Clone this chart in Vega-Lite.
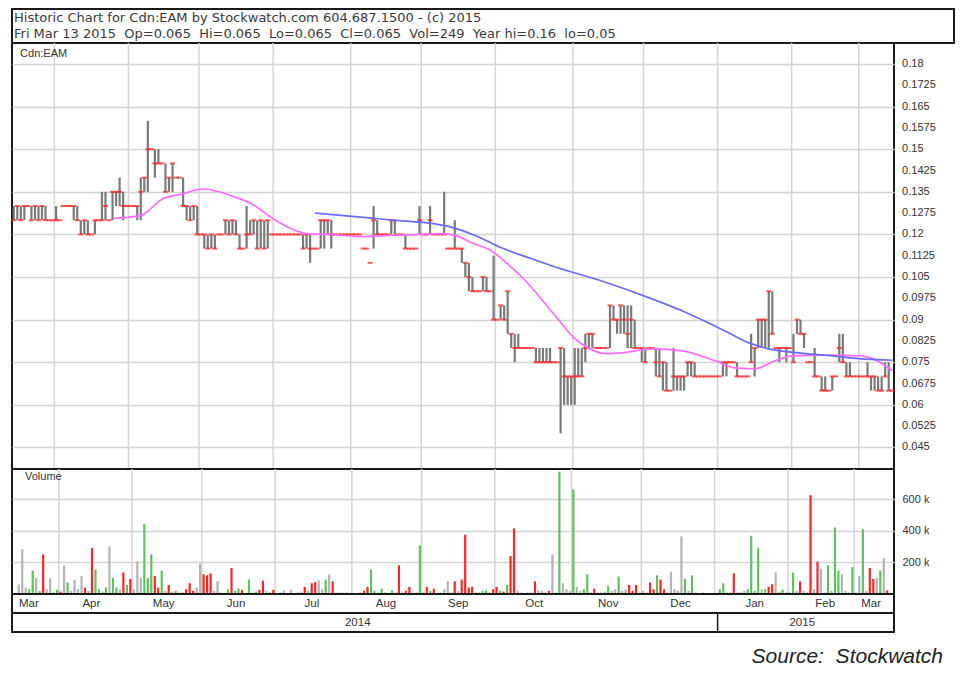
{
  "$schema": "https://vega.github.io/schema/vega-lite/v6.json",
  "background": "white",
  "padding": {"left": 10, "top": 8, "right": 20, "bottom": 4},
  "config": {
    "view": {"stroke": "#1a1a1a", "strokeWidth": 2},
    "font": "Liberation Sans"
  },
  "title": {"text": "Source:\u00a0\u00a0Stockwatch", "orient": "bottom", "anchor": "end", "font": "Liberation Sans", "fontStyle": "italic", "fontWeight": "normal", "fontSize": 21, "color": "#222222", "offset": 12, "dx": -12},
  "datasets": {
    "bounds": [{"b":11.5},{"b":32.5},{"b":52.5},{"b":73.5},{"b":95.5},{"b":115.5},{"b":136.5},{"b":158.5},{"b":178.5},{"b":199.5},{"b":220.5},{"b":239.5}],
    "months": [{"m":"Mar","c":4.3},{"m":"Apr","c":22},{"m":"May","c":42.5},{"m":"Jun","c":63},{"m":"Jul","c":84.5},{"m":"Aug","c":105.5},{"m":"Sep","c":126},{"m":"Oct","c":147.5},{"m":"Nov","c":168.5},{"m":"Dec","c":189},{"m":"Jan","c":210},{"m":"Feb","c":230},{"m":"Mar","c":243}],
    "yticks": [{"v":0.18,"t":"0.18"},{"v":0.1725,"t":"0.1725"},{"v":0.165,"t":"0.165"},{"v":0.1575,"t":"0.1575"},{"v":0.15,"t":"0.15"},{"v":0.1425,"t":"0.1425"},{"v":0.135,"t":"0.135"},{"v":0.1275,"t":"0.1275"},{"v":0.12,"t":"0.12"},{"v":0.1125,"t":"0.1125"},{"v":0.105,"t":"0.105"},{"v":0.0975,"t":"0.0975"},{"v":0.09,"t":"0.09"},{"v":0.0825,"t":"0.0825"},{"v":0.075,"t":"0.075"},{"v":0.0675,"t":"0.0675"},{"v":0.06,"t":"0.06"},{"v":0.0525,"t":"0.0525"},{"v":0.045,"t":"0.045"}],
    "maShort": [
      {"i":28.4,"p":0.1257},{"i":32,"p":0.126},{"i":36.3,"p":0.1267},{"i":37.8,"p":0.128},{"i":42,"p":0.1324},{"i":47.7,"p":0.1342},{"i":53.4,"p":0.136},{"i":57.6,"p":0.1352},{"i":62,"p":0.1335},{"i":67.5,"p":0.1307},{"i":73.2,"p":0.1258},{"i":78.9,"p":0.1219},{"i":83.1,"p":0.1203},{"i":90,"p":0.12},{"i":98.7,"p":0.1192},{"i":107,"p":0.1197},{"i":115.7,"p":0.12},{"i":121.4,"p":0.1203},{"i":125.6,"p":0.1195},{"i":129.9,"p":0.117},{"i":135,"p":0.1145},{"i":139.8,"p":0.1098},{"i":144.6,"p":0.1043},{"i":149.7,"p":0.097},{"i":154,"p":0.0906},{"i":158.8,"p":0.0836},{"i":163.3,"p":0.0797},{"i":168.1,"p":0.078},{"i":172.4,"p":0.0783},{"i":180.9,"p":0.0797},{"i":189.4,"p":0.079},{"i":198.8,"p":0.0755},{"i":204.4,"p":0.073},{"i":210.1,"p":0.0727},{"i":215.8,"p":0.0755},{"i":220.6,"p":0.0772},{"i":230,"p":0.0775},{"i":240,"p":0.0772},{"i":244,"p":0.076},{"i":249,"p":0.072}
    ],
    "maLong": [
      {"i":85.4,"p":0.1275},{"i":100.7,"p":0.1258},{"i":110,"p":0.1248},{"i":119.4,"p":0.1237},{"i":124.2,"p":0.1225},{"i":131,"p":0.1195},{"i":138.4,"p":0.1152},{"i":145.5,"p":0.112},{"i":152.6,"p":0.1089},{"i":166.7,"p":0.1036},{"i":180.9,"p":0.0973},{"i":189.4,"p":0.0931},{"i":202.7,"p":0.0853},{"i":208.4,"p":0.0818},{"i":214,"p":0.0797},{"i":222.6,"p":0.0783},{"i":232,"p":0.0772},{"i":241.3,"p":0.0761},{"i":249,"p":0.0757}
    ],
    "daily": [
      {"i":0,"h":0.13,"l":0.125,"c":0.125,"v":60,"d":"n"},
      {"i":1,"h":0.13,"l":0.125,"c":0.13,"v":284,"d":"n"},
      {"i":2,"h":0.13,"l":0.125,"c":0.125,"v":40,"d":"n"},
      {"i":3,"h":0.13,"l":0.125,"c":0.13,"v":30,"d":"u"},
      {"i":4,"h":0.13,"l":0.13,"c":0.13,"v":148,"d":"u"},
      {"i":5,"h":0.13,"l":0.125,"c":0.125,"v":100,"d":"n"},
      {"i":6,"h":0.13,"l":0.125,"c":0.13,"v":20,"d":"u"},
      {"i":7,"h":0.13,"l":0.125,"c":0.125,"v":250,"d":"d"},
      {"i":8,"h":0.13,"l":0.125,"c":0.13,"v":30,"d":"n"},
      {"i":9,"h":0.13,"l":0.125,"c":0.125,"v":100,"d":"n"},
      {"i":10,"h":0.125,"l":0.125,"c":0.125,"v":10,"d":"n"},
      {"i":11,"h":0.125,"l":0.125,"c":0.125,"v":27,"d":"u"},
      {"i":12,"h":0.13,"l":0.125,"c":0.125,"v":15,"d":"d"},
      {"i":13,"h":0.125,"l":0.125,"c":0.125,"v":180,"d":"n"},
      {"i":14,"h":0.13,"l":0.13,"c":0.13,"v":73,"d":"u"},
      {"i":15,"h":0.13,"l":0.13,"c":0.13,"v":20,"d":"n"},
      {"i":16,"h":0.13,"l":0.13,"c":0.13,"v":90,"d":"n"},
      {"i":17,"h":0.13,"l":0.125,"c":0.13,"v":30,"d":"n"},
      {"i":18,"h":0.13,"l":0.125,"c":0.125,"v":114,"d":"n"},
      {"i":19,"h":0.125,"l":0.12,"c":0.12,"v":40,"d":"d"},
      {"i":20,"h":0.125,"l":0.12,"c":0.125,"v":20,"d":"n"},
      {"i":21,"h":0.125,"l":0.12,"c":0.12,"v":290,"d":"d"},
      {"i":22,"h":0.12,"l":0.12,"c":0.12,"v":155,"d":"u"},
      {"i":23,"h":0.125,"l":0.12,"c":0.125,"v":30,"d":"u"},
      {"i":24,"h":0.125,"l":0.125,"c":0.125,"v":15,"d":"n"},
      {"i":25,"h":0.135,"l":0.125,"c":0.125,"v":41,"d":"u"},
      {"i":26,"h":0.135,"l":0.125,"c":0.13,"v":300,"d":"n"},
      {"i":27,"h":0.125,"l":0.125,"c":0.125,"v":102,"d":"u"},
      {"i":28,"h":0.135,"l":0.125,"c":0.135,"v":40,"d":"u"},
      {"i":29,"h":0.135,"l":0.13,"c":0.135,"v":30,"d":"n"},
      {"i":30,"h":0.14,"l":0.13,"c":0.135,"v":136,"d":"d"},
      {"i":31,"h":0.135,"l":0.125,"c":0.13,"v":57,"d":"u"},
      {"i":32,"h":0.13,"l":0.13,"c":0.13,"v":95,"d":"d"},
      {"i":33,"h":0.13,"l":0.13,"c":0.13,"v":30,"d":"n"},
      {"i":34,"h":0.13,"l":0.13,"c":0.13,"v":205,"d":"n"},
      {"i":35,"h":0.13,"l":0.125,"c":0.13,"v":102,"d":"n"},
      {"i":36,"h":0.14,"l":0.125,"c":0.135,"v":443,"d":"u"},
      {"i":37,"h":0.14,"l":0.135,"c":0.14,"v":100,"d":"u"},
      {"i":38,"h":0.16,"l":0.135,"c":0.15,"v":250,"d":"u"},
      {"i":39,"h":0.15,"l":0.15,"c":0.15,"v":114,"d":"d"},
      {"i":40,"h":0.15,"l":0.14,"c":0.145,"v":40,"d":"d"},
      {"i":41,"h":0.15,"l":0.145,"c":0.145,"v":148,"d":"u"},
      {"i":42,"h":0.145,"l":0.145,"c":0.145,"v":20,"d":"n"},
      {"i":43,"h":0.145,"l":0.135,"c":0.135,"v":57,"d":"d"},
      {"i":44,"h":0.14,"l":0.135,"c":0.14,"v":15,"d":"n"},
      {"i":45,"h":0.145,"l":0.135,"c":0.145,"v":20,"d":"u"},
      {"i":46,"h":0.14,"l":0.14,"c":0.14,"v":10,"d":"n"},
      {"i":47,"h":0.14,"l":0.14,"c":0.14,"v":10,"d":"n"},
      {"i":48,"h":0.14,"l":0.13,"c":0.13,"v":30,"d":"d"},
      {"i":49,"h":0.13,"l":0.125,"c":0.13,"v":68,"d":"d"},
      {"i":50,"h":0.13,"l":0.125,"c":0.125,"v":20,"d":"d"},
      {"i":51,"h":0.13,"l":0.125,"c":0.13,"v":40,"d":"n"},
      {"i":52,"h":0.13,"l":0.12,"c":0.12,"v":193,"d":"n"},
      {"i":53,"h":0.12,"l":0.12,"c":0.12,"v":125,"d":"d"},
      {"i":54,"h":0.12,"l":0.115,"c":0.12,"v":118,"d":"d"},
      {"i":55,"h":0.12,"l":0.115,"c":0.115,"v":130,"d":"d"},
      {"i":56,"h":0.12,"l":0.115,"c":0.12,"v":20,"d":"n"},
      {"i":57,"h":0.12,"l":0.115,"c":0.115,"v":80,"d":"n"},
      {"i":58,"h":0.12,"l":0.12,"c":0.12,"v":10,"d":"n"},
      {"i":59,"h":0.12,"l":0.12,"c":0.12,"v":5,"d":"n"},
      {"i":60,"h":0.125,"l":0.12,"c":0.125,"v":30,"d":"u"},
      {"i":61,"h":0.125,"l":0.12,"c":0.12,"v":164,"d":"d"},
      {"i":62,"h":0.125,"l":0.12,"c":0.125,"v":20,"d":"u"},
      {"i":63,"h":0.125,"l":0.12,"c":0.12,"v":34,"d":"u"},
      {"i":64,"h":0.12,"l":0.115,"c":0.115,"v":25,"d":"d"},
      {"i":65,"h":0.115,"l":0.115,"c":0.115,"v":5,"d":"n"},
      {"i":66,"h":0.13,"l":0.115,"c":0.12,"v":91,"d":"u"},
      {"i":67,"h":0.125,"l":0.12,"c":0.12,"v":10,"d":"n"},
      {"i":68,"h":0.125,"l":0.12,"c":0.125,"v":15,"d":"u"},
      {"i":69,"h":0.125,"l":0.115,"c":0.115,"v":25,"d":"d"},
      {"i":70,"h":0.125,"l":0.115,"c":0.125,"v":84,"d":"d"},
      {"i":71,"h":0.125,"l":0.115,"c":0.115,"v":20,"d":"n"},
      {"i":72,"h":0.125,"l":0.115,"c":0.125,"v":10,"d":"n"},
      {"i":73,"h":0.12,"l":0.12,"c":0.12,"v":27,"d":"d"},
      {"i":74,"h":0.12,"l":0.12,"c":0.12,"v":5,"d":"n"},
      {"i":75,"h":0.12,"l":0.12,"c":0.12,"v":10,"d":"n"},
      {"i":76,"h":0.12,"l":0.12,"c":0.12,"v":23,"d":"n"},
      {"i":77,"h":0.12,"l":0.12,"c":0.12,"v":5,"d":"n"},
      {"i":78,"h":0.12,"l":0.12,"c":0.12,"v":27,"d":"n"},
      {"i":79,"h":0.12,"l":0.12,"c":0.12,"v":5,"d":"n"},
      {"i":80,"h":0.12,"l":0.12,"c":0.12,"v":10,"d":"n"},
      {"i":81,"h":0.12,"l":0.12,"c":0.12,"v":15,"d":"n"},
      {"i":82,"h":0.12,"l":0.115,"c":0.115,"v":45,"d":"d"},
      {"i":83,"h":0.12,"l":0.115,"c":0.12,"v":20,"d":"n"},
      {"i":84,"h":0.12,"l":0.11,"c":0.115,"v":68,"d":"d"},
      {"i":85,"h":0.115,"l":0.115,"c":0.115,"v":75,"d":"d"},
      {"i":86,"h":0.115,"l":0.115,"c":0.115,"v":86,"d":"n"},
      {"i":87,"h":0.125,"l":0.115,"c":0.125,"v":30,"d":"n"},
      {"i":88,"h":0.125,"l":0.115,"c":0.125,"v":91,"d":"u"},
      {"i":89,"h":0.125,"l":0.12,"c":0.125,"v":123,"d":"n"},
      {"i":90,"h":0.125,"l":0.115,"c":0.12,"v":80,"d":"d"},
      {"i":91,"h":0.12,"l":0.12,"c":0.12,"v":10,"d":"n"},
      {"i":92,"h":0.12,"l":0.12,"c":0.12,"v":10,"d":"n"},
      {"i":93,"h":0.12,"l":0.12,"c":0.12,"v":8,"d":"n"},
      {"i":94,"h":0.12,"l":0.12,"c":0.12,"v":10,"d":"n"},
      {"i":95,"h":0.12,"l":0.12,"c":0.12,"v":8,"d":"n"},
      {"i":96,"h":0.12,"l":0.12,"c":0.12,"v":5,"d":"n"},
      {"i":97,"h":0.12,"l":0.12,"c":0.12,"v":5,"d":"n"},
      {"i":98,"h":0.12,"l":0.12,"c":0.12,"v":10,"d":"n"},
      {"i":99,"h":0.115,"l":0.115,"c":0.115,"v":20,"d":"d"},
      {"i":100,"h":0.115,"l":0.115,"c":0.115,"v":45,"d":"d"},
      {"i":101,"h":0.11,"l":0.11,"c":0.11,"v":155,"d":"u"},
      {"i":102,"h":0.13,"l":0.115,"c":0.125,"v":20,"d":"u"},
      {"i":103,"h":0.125,"l":0.12,"c":0.12,"v":10,"d":"n"},
      {"i":104,"h":0.12,"l":0.12,"c":0.12,"v":34,"d":"u"},
      {"i":105,"h":0.12,"l":0.12,"c":0.12,"v":10,"d":"n"},
      {"i":106,"h":0.12,"l":0.12,"c":0.12,"v":5,"d":"n"},
      {"i":107,"h":0.125,"l":0.12,"c":0.125,"v":23,"d":"u"},
      {"i":108,"h":0.125,"l":0.12,"c":0.125,"v":10,"d":"n"},
      {"i":109,"h":0.12,"l":0.12,"c":0.12,"v":182,"d":"d"},
      {"i":110,"h":0.12,"l":0.12,"c":0.12,"v":10,"d":"n"},
      {"i":111,"h":0.12,"l":0.115,"c":0.115,"v":20,"d":"d"},
      {"i":112,"h":0.115,"l":0.115,"c":0.115,"v":45,"d":"d"},
      {"i":113,"h":0.115,"l":0.115,"c":0.115,"v":10,"d":"n"},
      {"i":114,"h":0.115,"l":0.115,"c":0.115,"v":10,"d":"n"},
      {"i":115,"h":0.13,"l":0.12,"c":0.125,"v":307,"d":"u"},
      {"i":116,"h":0.12,"l":0.12,"c":0.12,"v":10,"d":"n"},
      {"i":117,"h":0.12,"l":0.12,"c":0.12,"v":45,"d":"d"},
      {"i":118,"h":0.13,"l":0.12,"c":0.125,"v":20,"d":"u"},
      {"i":119,"h":0.12,"l":0.12,"c":0.12,"v":34,"d":"d"},
      {"i":120,"h":0.12,"l":0.12,"c":0.12,"v":5,"d":"n"},
      {"i":121,"h":0.12,"l":0.12,"c":0.12,"v":10,"d":"n"},
      {"i":122,"h":0.135,"l":0.12,"c":0.12,"v":30,"d":"n"},
      {"i":123,"h":0.115,"l":0.115,"c":0.115,"v":80,"d":"n"},
      {"i":124,"h":0.115,"l":0.115,"c":0.115,"v":10,"d":"n"},
      {"i":125,"h":0.125,"l":0.115,"c":0.115,"v":80,"d":"d"},
      {"i":126,"h":0.115,"l":0.115,"c":0.115,"v":20,"d":"n"},
      {"i":127,"h":0.115,"l":0.11,"c":0.115,"v":91,"d":"d"},
      {"i":128,"h":0.11,"l":0.105,"c":0.11,"v":375,"d":"d"},
      {"i":129,"h":0.11,"l":0.1,"c":0.105,"v":40,"d":"d"},
      {"i":130,"h":0.105,"l":0.1,"c":0.1,"v":45,"d":"d"},
      {"i":131,"h":0.1,"l":0.1,"c":0.1,"v":10,"d":"n"},
      {"i":132,"h":0.1,"l":0.1,"c":0.1,"v":10,"d":"n"},
      {"i":133,"h":0.105,"l":0.1,"c":0.105,"v":20,"d":"u"},
      {"i":134,"h":0.105,"l":0.1,"c":0.1,"v":23,"d":"u"},
      {"i":135,"h":0.1,"l":0.1,"c":0.1,"v":10,"d":"n"},
      {"i":136,"h":0.1125,"l":0.09,"c":0.09,"v":30,"d":"d"},
      {"i":137,"h":0.09,"l":0.09,"c":0.09,"v":45,"d":"d"},
      {"i":138,"h":0.095,"l":0.09,"c":0.095,"v":20,"d":"u"},
      {"i":139,"h":0.095,"l":0.09,"c":0.09,"v":15,"d":"d"},
      {"i":140,"h":0.1,"l":0.085,"c":0.1,"v":57,"d":"u"},
      {"i":141,"h":0.085,"l":0.08,"c":0.085,"v":240,"d":"d"},
      {"i":142,"h":0.085,"l":0.075,"c":0.08,"v":414,"d":"d"},
      {"i":143,"h":0.085,"l":0.08,"c":0.08,"v":23,"d":"n"},
      {"i":144,"h":0.08,"l":0.08,"c":0.08,"v":10,"d":"n"},
      {"i":145,"h":0.08,"l":0.08,"c":0.08,"v":5,"d":"n"},
      {"i":146,"h":0.08,"l":0.08,"c":0.08,"v":10,"d":"n"},
      {"i":147,"h":0.08,"l":0.08,"c":0.08,"v":10,"d":"n"},
      {"i":148,"h":0.08,"l":0.075,"c":0.075,"v":80,"d":"d"},
      {"i":149,"h":0.08,"l":0.075,"c":0.075,"v":23,"d":"n"},
      {"i":150,"h":0.08,"l":0.075,"c":0.075,"v":20,"d":"n"},
      {"i":151,"h":0.08,"l":0.075,"c":0.075,"v":10,"d":"n"},
      {"i":152,"h":0.08,"l":0.075,"c":0.075,"v":20,"d":"d"},
      {"i":153,"h":0.075,"l":0.075,"c":0.075,"v":250,"d":"n"},
      {"i":154,"h":0.075,"l":0.075,"c":0.075,"v":10,"d":"n"},
      {"i":155,"h":0.08,"l":0.05,"c":0.08,"v":773,"d":"u"},
      {"i":156,"h":0.08,"l":0.06,"c":0.07,"v":68,"d":"n"},
      {"i":157,"h":0.07,"l":0.06,"c":0.07,"v":30,"d":"n"},
      {"i":158,"h":0.07,"l":0.06,"c":0.07,"v":20,"d":"n"},
      {"i":159,"h":0.08,"l":0.06,"c":0.07,"v":660,"d":"u"},
      {"i":160,"h":0.08,"l":0.07,"c":0.07,"v":45,"d":"n"},
      {"i":161,"h":0.08,"l":0.07,"c":0.07,"v":20,"d":"n"},
      {"i":162,"h":0.085,"l":0.075,"c":0.08,"v":30,"d":"u"},
      {"i":163,"h":0.085,"l":0.08,"c":0.085,"v":125,"d":"u"},
      {"i":164,"h":0.085,"l":0.08,"c":0.085,"v":10,"d":"n"},
      {"i":165,"h":0.08,"l":0.08,"c":0.08,"v":34,"d":"d"},
      {"i":166,"h":0.08,"l":0.08,"c":0.08,"v":10,"d":"n"},
      {"i":167,"h":0.08,"l":0.08,"c":0.08,"v":10,"d":"n"},
      {"i":168,"h":0.08,"l":0.08,"c":0.08,"v":15,"d":"n"},
      {"i":169,"h":0.095,"l":0.08,"c":0.095,"v":50,"d":"u"},
      {"i":170,"h":0.095,"l":0.09,"c":0.09,"v":20,"d":"n"},
      {"i":171,"h":0.09,"l":0.085,"c":0.09,"v":30,"d":"n"},
      {"i":172,"h":0.095,"l":0.085,"c":0.095,"v":110,"d":"u"},
      {"i":173,"h":0.095,"l":0.085,"c":0.09,"v":20,"d":"n"},
      {"i":174,"h":0.095,"l":0.08,"c":0.085,"v":30,"d":"n"},
      {"i":175,"h":0.095,"l":0.08,"c":0.09,"v":57,"d":"d"},
      {"i":176,"h":0.09,"l":0.08,"c":0.08,"v":20,"d":"d"},
      {"i":177,"h":0.08,"l":0.08,"c":0.08,"v":57,"d":"d"},
      {"i":178,"h":0.08,"l":0.075,"c":0.08,"v":10,"d":"n"},
      {"i":179,"h":0.08,"l":0.075,"c":0.075,"v":20,"d":"n"},
      {"i":180,"h":0.08,"l":0.08,"c":0.08,"v":10,"d":"n"},
      {"i":181,"h":0.08,"l":0.08,"c":0.08,"v":73,"d":"d"},
      {"i":182,"h":0.08,"l":0.07,"c":0.075,"v":30,"d":"d"},
      {"i":183,"h":0.08,"l":0.07,"c":0.07,"v":118,"d":"u"},
      {"i":184,"h":0.075,"l":0.065,"c":0.075,"v":91,"d":"d"},
      {"i":185,"h":0.075,"l":0.065,"c":0.065,"v":30,"d":"d"},
      {"i":186,"h":0.065,"l":0.065,"c":0.065,"v":10,"d":"n"},
      {"i":187,"h":0.08,"l":0.065,"c":0.07,"v":141,"d":"n"},
      {"i":188,"h":0.07,"l":0.065,"c":0.07,"v":30,"d":"n"},
      {"i":189,"h":0.07,"l":0.065,"c":0.07,"v":20,"d":"n"},
      {"i":190,"h":0.07,"l":0.065,"c":0.07,"v":364,"d":"n"},
      {"i":191,"h":0.075,"l":0.07,"c":0.075,"v":95,"d":"u"},
      {"i":192,"h":0.075,"l":0.07,"c":0.075,"v":20,"d":"n"},
      {"i":193,"h":0.075,"l":0.07,"c":0.07,"v":118,"d":"u"},
      {"i":194,"h":0.07,"l":0.07,"c":0.07,"v":10,"d":"n"},
      {"i":195,"h":0.07,"l":0.07,"c":0.07,"v":5,"d":"n"},
      {"i":196,"h":0.07,"l":0.07,"c":0.07,"v":10,"d":"n"},
      {"i":197,"h":0.07,"l":0.07,"c":0.07,"v":5,"d":"d"},
      {"i":198,"h":0.07,"l":0.07,"c":0.07,"v":5,"d":"n"},
      {"i":199,"h":0.07,"l":0.07,"c":0.07,"v":5,"d":"n"},
      {"i":200,"h":0.07,"l":0.07,"c":0.07,"v":5,"d":"n"},
      {"i":201,"h":0.075,"l":0.07,"c":0.075,"v":30,"d":"u"},
      {"i":202,"h":0.075,"l":0.07,"c":0.075,"v":68,"d":"u"},
      {"i":203,"h":0.075,"l":0.075,"c":0.075,"v":10,"d":"n"},
      {"i":204,"h":0.075,"l":0.075,"c":0.075,"v":10,"d":"n"},
      {"i":205,"h":0.075,"l":0.07,"c":0.07,"v":130,"d":"d"},
      {"i":206,"h":0.07,"l":0.07,"c":0.07,"v":10,"d":"n"},
      {"i":207,"h":0.07,"l":0.07,"c":0.07,"v":10,"d":"n"},
      {"i":208,"h":0.07,"l":0.07,"c":0.07,"v":20,"d":"n"},
      {"i":209,"h":0.085,"l":0.075,"c":0.075,"v":30,"d":"u"},
      {"i":210,"h":0.08,"l":0.07,"c":0.08,"v":368,"d":"u"},
      {"i":211,"h":0.09,"l":0.08,"c":0.09,"v":20,"d":"u"},
      {"i":212,"h":0.09,"l":0.08,"c":0.09,"v":290,"d":"u"},
      {"i":213,"h":0.09,"l":0.08,"c":0.09,"v":30,"d":"n"},
      {"i":214,"h":0.1,"l":0.08,"c":0.1,"v":30,"d":"u"},
      {"i":215,"h":0.1,"l":0.085,"c":0.085,"v":45,"d":"d"},
      {"i":216,"h":0.08,"l":0.08,"c":0.08,"v":61,"d":"d"},
      {"i":217,"h":0.08,"l":0.075,"c":0.08,"v":136,"d":"n"},
      {"i":218,"h":0.08,"l":0.08,"c":0.08,"v":15,"d":"n"},
      {"i":219,"h":0.08,"l":0.075,"c":0.08,"v":27,"d":"u"},
      {"i":220,"h":0.08,"l":0.08,"c":0.08,"v":10,"d":"n"},
      {"i":221,"h":0.085,"l":0.075,"c":0.075,"v":15,"d":"n"},
      {"i":222,"h":0.09,"l":0.085,"c":0.09,"v":136,"d":"u"},
      {"i":223,"h":0.09,"l":0.085,"c":0.085,"v":20,"d":"n"},
      {"i":224,"h":0.085,"l":0.08,"c":0.085,"v":80,"d":"d"},
      {"i":225,"h":0.075,"l":0.075,"c":0.075,"v":20,"d":"n"},
      {"i":226,"h":0.075,"l":0.075,"c":0.075,"v":10,"d":"n"},
      {"i":227,"h":0.08,"l":0.07,"c":0.07,"v":625,"d":"d"},
      {"i":228,"h":0.07,"l":0.07,"c":0.07,"v":30,"d":"n"},
      {"i":229,"h":0.07,"l":0.065,"c":0.065,"v":205,"d":"d"},
      {"i":230,"h":0.07,"l":0.065,"c":0.065,"v":160,"d":"n"},
      {"i":231,"h":0.065,"l":0.065,"c":0.065,"v":10,"d":"n"},
      {"i":232,"h":0.07,"l":0.065,"c":0.07,"v":182,"d":"u"},
      {"i":233,"h":0.07,"l":0.07,"c":0.07,"v":20,"d":"n"},
      {"i":234,"h":0.085,"l":0.075,"c":0.08,"v":420,"d":"u"},
      {"i":235,"h":0.085,"l":0.075,"c":0.075,"v":148,"d":"u"},
      {"i":236,"h":0.075,"l":0.07,"c":0.07,"v":125,"d":"n"},
      {"i":237,"h":0.075,"l":0.07,"c":0.07,"v":20,"d":"n"},
      {"i":238,"h":0.07,"l":0.07,"c":0.07,"v":10,"d":"n"},
      {"i":239,"h":0.07,"l":0.07,"c":0.07,"v":170,"d":"u"},
      {"i":240,"h":0.07,"l":0.07,"c":0.07,"v":10,"d":"n"},
      {"i":241,"h":0.07,"l":0.07,"c":0.07,"v":114,"d":"n"},
      {"i":242,"h":0.075,"l":0.07,"c":0.07,"v":410,"d":"u"},
      {"i":243,"h":0.07,"l":0.065,"c":0.07,"v":20,"d":"n"},
      {"i":244,"h":0.07,"l":0.065,"c":0.07,"v":164,"d":"d"},
      {"i":245,"h":0.07,"l":0.065,"c":0.065,"v":95,"d":"d"},
      {"i":246,"h":0.07,"l":0.065,"c":0.065,"v":102,"d":"n"},
      {"i":247,"h":0.075,"l":0.07,"c":0.07,"v":148,"d":"u"},
      {"i":248,"h":0.075,"l":0.065,"c":0.065,"v":227,"d":"n"},
      {"i":249,"h":0.065,"l":0.065,"c":0.065,"v":23,"d":"d"}
    ]
  },
  "spacing": 0,
  "bounds": "flush",
  "vconcat": [
    {
      "width": 942,
      "height": 34,
      "data": {"values": [
        {"line": 1, "t": "Historic Chart for Cdn:EAM by Stockwatch.com 604.687.1500 - (c) 2015"},
        {"line": 2, "t": "Fri Mar 13 2015\u00a0 Op=0.065\u00a0 Hi=0.065\u00a0 Lo=0.065\u00a0 Cl=0.065\u00a0 Vol=249\u00a0 Year hi=0.16\u00a0 lo=0.05"}
      ]},
      "mark": {"type": "text", "align": "left", "baseline": "middle", "font": "DejaVu Sans", "fontSize": 13, "color": "#3a3a3a", "dx": 2},
      "encoding": {
        "x": {"datum": 0, "type": "quantitative", "scale": {"domain": [0, 1]}, "axis": null},
        "y": {"field": "line", "type": "ordinal", "axis": null, "scale": {"padding": 0.6}},
        "text": {"field": "t"}
      }
    },
    {
      "spacing": 0,
      "bounds": "flush",
      "hconcat": [
        {
          "spacing": 0,
          "bounds": "flush",
          "vconcat": [
            {
              "width": 882,
              "height": 426,
              "layer": [
                {
                  "data": {"name": "bounds"},
                  "mark": {"type": "rule", "color": "#d4d4d4", "strokeWidth": 1.5},
                  "encoding": {
                    "x": {"field": "b", "type": "quantitative", "scale": {"domain": [-0.5, 249.5], "nice": false, "zero": false}, "axis": null}
                  }
                },
                {
                  "data": {"name": "daily"},
                  "mark": {"type": "rule", "color": "#7a7a7a", "strokeWidth": 2.2},
                  "encoding": {
                    "x": {"field": "i", "type": "quantitative", "scale": {"domain": [-0.5, 249.5], "nice": false, "zero": false}, "axis": null},
                    "y": {"field": "l", "type": "quantitative", "scale": {"domain": [0.0374, 0.1874], "nice": false, "zero": false},
                      "axis": {"orient": "right", "title": null, "values": [0.045, 0.0525, 0.06, 0.0675, 0.075, 0.0825, 0.09, 0.0975, 0.105, 0.1125, 0.12, 0.1275, 0.135, 0.1425, 0.15, 0.1575, 0.165, 0.1725, 0.18],
                        "labels": false, "ticks": false, "domain": false, "grid": true, "gridColor": "#d4d4d4", "gridWidth": 1.5}},
                    "y2": {"field": "h"}
                  }
                },
                {
                  "data": {"name": "daily"},
                  "mark": {"type": "tick", "orient": "horizontal", "color": "#ff1a1a", "thickness": 2, "size": 5},
                  "encoding": {
                    "x": {"field": "i", "type": "quantitative", "scale": {"domain": [-0.5, 249.5], "nice": false, "zero": false}, "axis": null},
                    "y": {"field": "c", "type": "quantitative", "scale": {"domain": [0.0374, 0.1874], "nice": false, "zero": false}}
                  }
                },
                {
                  "data": {"name": "maShort"},
                  "mark": {"type": "line", "strokeWidth": 1.7, "interpolate": "monotone", "color": "#ff6bff"},
                  "encoding": {
                    "x": {"field": "i", "type": "quantitative", "scale": {"domain": [-0.5, 249.5], "nice": false, "zero": false}, "axis": null},
                    "y": {"field": "p", "type": "quantitative", "scale": {"domain": [0.0374, 0.1874], "nice": false, "zero": false}}
                  }
                },
                {
                  "data": {"name": "maLong"},
                  "mark": {"type": "line", "strokeWidth": 1.7, "interpolate": "monotone", "color": "#6b6bff"},
                  "encoding": {
                    "x": {"field": "i", "type": "quantitative", "scale": {"domain": [-0.5, 249.5], "nice": false, "zero": false}, "axis": null},
                    "y": {"field": "p", "type": "quantitative", "scale": {"domain": [0.0374, 0.1874], "nice": false, "zero": false}}
                  }
                },
                {
                  "data": {"name": "yticks"},
                  "mark": {"type": "text", "align": "left", "baseline": "middle", "fontSize": 11, "color": "#333333"},
                  "encoding": {
                    "x": {"datum": 251.8, "type": "quantitative", "scale": {"domain": [-0.5, 249.5], "nice": false, "zero": false}},
                    "y": {"field": "v", "type": "quantitative", "scale": {"domain": [0.0374, 0.1874], "nice": false, "zero": false}},
                    "text": {"field": "t"}
                  }
                },
                {
                  "data": {"values": [{"t": "Cdn:EAM"}]},
                  "mark": {"type": "text", "align": "left", "baseline": "middle", "fontSize": 11, "color": "#333333"},
                  "encoding": {
                    "x": {"datum": 1.8, "type": "quantitative", "scale": {"domain": [-0.5, 249.5], "nice": false, "zero": false}},
                    "y": {"datum": 0.1835, "type": "quantitative", "scale": {"domain": [0.0374, 0.1874], "nice": false, "zero": false}},
                    "text": {"field": "t"}
                  }
                }
              ]
            },
            {
              "width": 882,
              "height": 125,
              "layer": [
                {
                  "data": {"name": "bounds"},
                  "mark": {"type": "rule", "color": "#d4d4d4", "strokeWidth": 1.5},
                  "encoding": {
                    "x": {"field": "b", "type": "quantitative", "scale": {"domain": [-0.5, 249.5], "nice": false, "zero": false}, "axis": null}
                  }
                },
                {
                  "data": {"name": "daily"},
                  "mark": {"type": "bar", "size": 2.2},
                  "encoding": {
                    "x": {"field": "i", "type": "quantitative", "scale": {"domain": [-0.5, 249.5], "nice": false, "zero": false}, "axis": null},
                    "y": {"field": "v", "type": "quantitative", "scale": {"domain": [0, 790], "nice": false},
                      "axis": {"orient": "right", "title": null, "values": [200, 400, 600], "labelExpr": "datum.value + ' k'", "labelOverlap": false,
                        "ticks": false, "domain": false, "grid": true, "gridColor": "#d4d4d4", "gridWidth": 1.5,
                        "labelPadding": 8, "labelFontSize": 11, "labelColor": "#333333", "labelFont": "Liberation Sans"}},
                    "color": {"field": "d", "type": "nominal", "scale": {"domain": ["u", "d", "n"], "range": ["#5cc35c", "#ff2424", "#b3b3b3"]}, "legend": null}
                  }
                },
                {
                  "data": {"values": [{"t": "Volume"}]},
                  "mark": {"type": "text", "align": "left", "baseline": "middle", "fontSize": 11, "color": "#333333"},
                  "encoding": {
                    "x": {"datum": 1.8, "type": "quantitative", "scale": {"domain": [-0.5, 249.5], "nice": false, "zero": false}},
                    "y": {"datum": 738, "type": "quantitative", "scale": {"domain": [0, 790], "nice": false}},
                    "text": {"field": "t"}
                  }
                }
              ]
            },
            {
              "width": 882,
              "height": 19,
              "data": {"name": "months"},
              "mark": {"type": "text", "baseline": "middle", "fontSize": 11.5, "color": "#333333"},
              "encoding": {
                "x": {"field": "c", "type": "quantitative", "scale": {"domain": [-0.5, 249.5], "nice": false, "zero": false}, "axis": null},
                "text": {"field": "m"}
              }
            },
            {
              "width": 882,
              "height": 19,
              "layer": [
                {
                  "data": {"values": [{"y": "2014", "c": 97.5}, {"y": "2015", "c": 223.5}]},
                  "mark": {"type": "text", "baseline": "middle", "fontSize": 11.5, "color": "#333333"},
                  "encoding": {
                    "x": {"field": "c", "type": "quantitative", "scale": {"domain": [-0.5, 249.5], "nice": false, "zero": false}, "axis": null},
                    "text": {"field": "y"}
                  }
                },
                {
                  "data": {"values": [{"b": 199.5}]},
                  "mark": {"type": "rule", "color": "#1a1a1a", "strokeWidth": 1.5},
                  "encoding": {
                    "x": {"field": "b", "type": "quantitative", "scale": {"domain": [-0.5, 249.5], "nice": false, "zero": false}, "axis": null}
                  }
                }
              ]
            }
          ]
        },
        {
          "width": 60,
          "height": 589,
          "data": {"values": []},
          "mark": {"type": "text"},
          "encoding": {}
        }
      ]
    }
  ]
}
